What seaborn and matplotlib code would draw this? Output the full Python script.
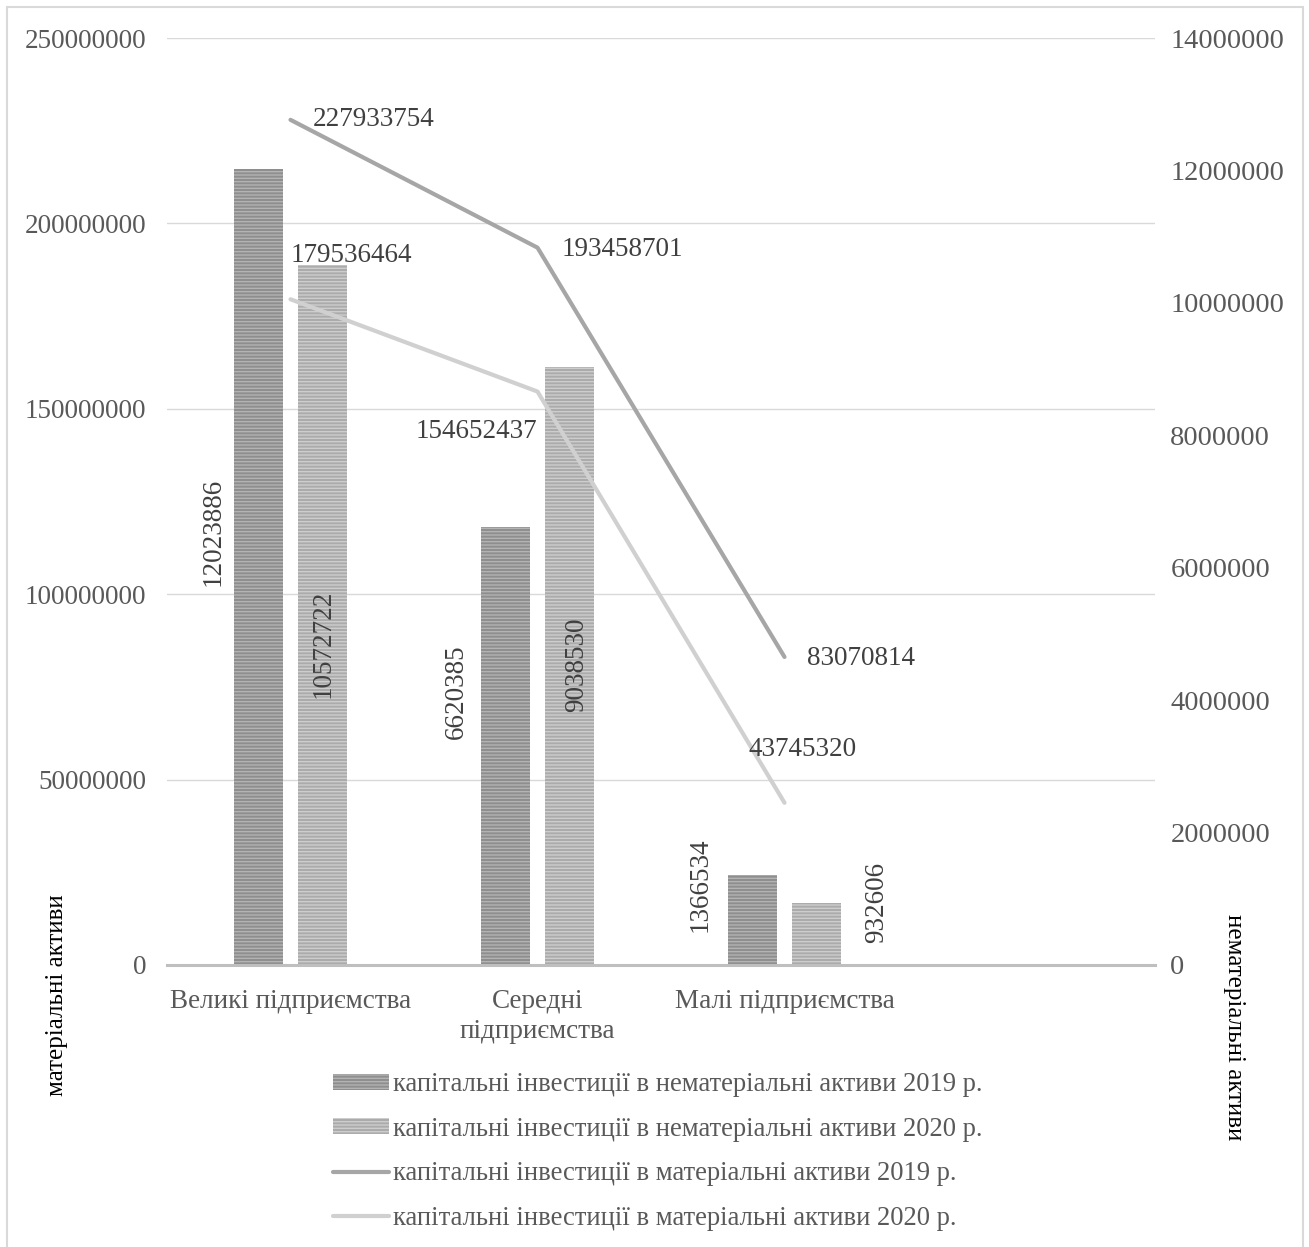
import textwrap

import matplotlib
matplotlib.use("Agg")
import matplotlib.pyplot as plt
import numpy as np
import pandas as pd
import seaborn as sns
from matplotlib.lines import Line2D
from matplotlib.patches import Patch, Rectangle

# ---- data -------------------------------------------------------------
categories = ["Великі підприємства", "Середні підприємства", "Малі підприємства"]
intangible_2019 = [12023886, 6620385, 1366534]
intangible_2020 = [10572722, 9038530, 932606]
tangible_2019 = [227933754, 193458701, 83070814]
tangible_2020 = [179536464, 154652437, 43745320]
series_names = [
    "капітальні інвестиції в нематеріальні активи 2019 р.",
    "капітальні інвестиції в нематеріальні активи 2020 р.",
    "капітальні інвестиції в матеріальні активи 2019 р.",
    "капітальні інвестиції в матеріальні активи 2020 р.",
]
left_ticks = [0, 50000000, 100000000, 150000000, 200000000, 250000000]
right_ticks = [0, 2000000, 4000000, 6000000, 8000000, 10000000, 12000000, 14000000]
left_title = "матеріальні активи"
right_title = "нематеріальні активи"

# ---- style ------------------------------------------------------------
sns.set_theme(style="white")
plt.rcParams["font.family"] = ["Liberation Serif", "DejaVu Serif"]
plt.rcParams["hatch.linewidth"] = 1.0

TEXT = "#595959"
LABEL = "#404040"
FS = 19.5
bar_face = ["#8e8e8e", "#ababab"]
bar_hatch = ["#b3b3b3", "#cdcdcd"]
line_colors = ["#a6a6a6", "#d0d0d0"]
HATCH = "-----"

# label offsets in pixels (dx, dy) relative to each mark
line_label_offsets = [
    [(22, 0, "left"), (24, -2, "left"), (23, -2, "left")],
    [(0, 44, "left"), (0, -40, "right"), (18, 53, "center")],
]
bar_label_offsets = [
    [(-45, 35), (-49, 54), (-52, 35)],
    [(0, -29), (7, 1), (60, 32)],
]

W, H = 1309, 1247
fig = plt.figure(figsize=(W / 100, H / 100), dpi=100)
ax = fig.add_axes([167 / W, 1 - 965 / H, 988 / W, 927 / H])
axb = ax.twinx()   # bars, right-hand scale
axl = ax.twinx()   # lines, left-hand scale, drawn on top

# ---- bars -------------------------------------------------------------
df_bars = pd.DataFrame({
    "category": categories * 2,
    "value": intangible_2019 + intangible_2020,
    "series": [series_names[0]] * 3 + [series_names[1]] * 3,
})
sns.barplot(data=df_bars, x="category", y="value", hue="series",
            order=categories, hue_order=series_names[:2],
            palette=bar_face, width=0.52, gap=0.23, errorbar=None,
            legend=False, ax=axb)
for i, cont in enumerate(axb.containers):
    for patch in cont.patches:
        patch.set_facecolor(bar_face[i])
        patch.set_edgecolor(bar_hatch[i])
        patch.set_hatch(HATCH)
        patch.set_linewidth(0)
    for j, patch in enumerate(cont.patches):
        h = patch.get_height()
        dx, dy = bar_label_offsets[i][j]
        axb.annotate(f"{int(round(h))}",
                     (patch.get_x() + patch.get_width() / 2, h / 2),
                     xytext=(dx, dy), textcoords="offset pixels",
                     rotation=90, ha="center", va="center",
                     fontsize=FS, color=LABEL)

# ---- lines ------------------------------------------------------------
pos = np.arange(len(categories))
df_lines = pd.DataFrame({
    "pos": np.concatenate([pos, pos]),
    "value": tangible_2019 + tangible_2020,
    "series": [series_names[2]] * 3 + [series_names[3]] * 3,
})
sns.lineplot(data=df_lines, x="pos", y="value", hue="series",
             hue_order=series_names[2:], palette=line_colors,
             linewidth=3, errorbar=None, sort=False, legend=False, ax=axl)
for ln in axl.lines:
    ln.set_solid_capstyle("round")
    ln.set_solid_joinstyle("round")
for k, vals in enumerate([tangible_2019, tangible_2020]):
    for j, v in enumerate(vals):
        dx, dy, ha = line_label_offsets[k][j]
        axl.annotate(f"{v}", (pos[j], v), xytext=(dx, dy),
                     textcoords="offset pixels", ha=ha, va="center",
                     fontsize=FS, color=LABEL)

# ---- axes -------------------------------------------------------------
for a in (ax, axb, axl):
    for s in a.spines.values():
        s.set_visible(False)
    a.set_xlim(-0.5, 3.5)
    a.set_xlabel("")
    a.set_ylabel("")

ax.set_ylim(0, left_ticks[-1])
axl.set_ylim(0, left_ticks[-1])
axb.set_ylim(0, right_ticks[-1])

ax.set_yticks(left_ticks)
ax.set_yticklabels([str(t) for t in left_ticks])
ax.yaxis.grid(True, color="#d9d9d9", linewidth=1)
ax.xaxis.grid(False)
ax.tick_params(axis="y", length=0, pad=15, labelsize=FS, labelcolor=TEXT)

axb.set_yticks(right_ticks)
axb.set_yticklabels([str(t) for t in right_ticks])
axb.tick_params(axis="y", length=0, pad=11, labelsize=20.5, labelcolor=TEXT)
axb.grid(False)

axl.set_yticks([])
axl.grid(False)
axl.spines["bottom"].set_visible(True)
axl.spines["bottom"].set_color("#bfbfbf")
axl.spines["bottom"].set_linewidth(2.2)

ax.set_xticks(pos)
ax.set_xticklabels([textwrap.fill(c, 19) for c in categories],
                   linespacing=1.3)
ax.tick_params(axis="x", length=0, pad=17, labelsize=FS, labelcolor=TEXT)

# ---- axis titles ------------------------------------------------------
fig.text(57 / W, 1 - 995 / H, left_title, rotation=90, ha="center",
         va="center", fontsize=18, color="black")
fig.text(1234 / W, 1 - 1027 / H, right_title, rotation=-90, ha="center",
         va="center", fontsize=18, color="black")

# ---- legend -----------------------------------------------------------
handles = [
    Patch(facecolor=bar_face[0], edgecolor=bar_hatch[0], hatch=HATCH, linewidth=0),
    Patch(facecolor=bar_face[1], edgecolor=bar_hatch[1], hatch=HATCH, linewidth=0),
    Line2D([], [], color=line_colors[0], linewidth=3, solid_capstyle="round"),
    Line2D([], [], color=line_colors[1], linewidth=3, solid_capstyle="round"),
]
fig.legend(handles, series_names, loc="upper left",
           bbox_to_anchor=(333 / W, 1 - 1072 / H), frameon=False,
           fontsize=19.2, labelcolor=TEXT, handlelength=2.1,
           handleheight=0.55, handletextpad=0.15, labelspacing=0.74,
           borderaxespad=0, borderpad=0)

# ---- outer frame ------------------------------------------------------
fig.patches.append(Rectangle((7 / W, -0.01), 1296 / W, 1 - 7 / H + 0.01,
                             transform=fig.transFigure, fill=False,
                             edgecolor="#d9d9d9", linewidth=1.5))

fig.savefig("out.png", dpi=100)
